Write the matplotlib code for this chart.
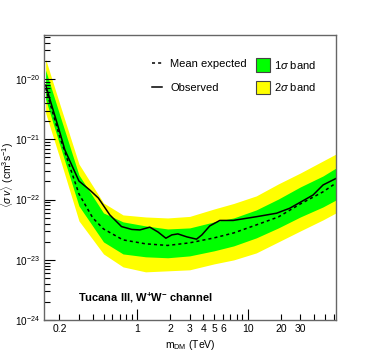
import math
import matplotlib
matplotlib.use("Agg")
import matplotlib.pyplot as plt
from matplotlib.ticker import FixedLocator, FuncFormatter, NullFormatter, LogLocator
from matplotlib.patches import Patch
from matplotlib.lines import Line2D

plt.rcParams['font.family'] = ['Liberation Sans', 'DejaVu Sans']
plt.rcParams['mathtext.fontset'] = 'custom'
plt.rcParams['mathtext.rm'] = 'Liberation Sans'
plt.rcParams['mathtext.it'] = 'Liberation Sans:italic'
plt.rcParams['mathtext.bf'] = 'Liberation Sans:bold'

# ---- data ----
band_mass = [0.15, 0.2, 0.3, 0.5, 0.75, 1.2, 1.9, 3, 5, 7.5, 12, 19, 30, 48, 63]
yellow_hi = [2.15e-20, 4.0e-21, 3.89e-22, 8.79e-23, 5.56e-23, 5.14e-23, 4.95e-23, 5.25e-23,
             6.98e-23, 8.61e-23, 1.15e-22, 1.82e-22, 2.76e-22, 4.37e-22, 5.70e-22]
green_hi = [1.41e-20, 2.63e-21, 2.56e-22, 6.0e-23, 4.26e-23, 3.65e-23, 3.25e-23, 3.38e-23,
            4.26e-23, 4.95e-23, 6.73e-23, 1.02e-22, 1.62e-22, 2.46e-22, 3.34e-22]
green_lo = [4.66e-21, 8.36e-22, 7.83e-23, 1.98e-23, 1.25e-23, 1.12e-23, 1.08e-23, 1.16e-23,
            1.41e-23, 1.70e-23, 2.31e-23, 3.38e-23, 5.14e-23, 7.53e-23, 9.84e-23]
yellow_lo = [2.73e-21, 5.08e-22, 4.42e-23, 1.25e-23, 7.62e-24, 6.30e-24, 6.55e-24, 6.81e-24,
             8.55e-24, 9.95e-24, 1.30e-23, 1.98e-23, 3.01e-23, 4.59e-23, 6.0e-23]

mean_mass = [0.15, 0.2, 0.3, 0.4, 0.5, 0.75, 1.2, 1.9, 3, 5, 7.5, 12, 19, 30, 48, 63]
mean_exp = [7.1e-21, 1.14e-21, 1.24e-22, 4.95e-23, 3.25e-23, 2.14e-23, 1.84e-23, 1.73e-23,
            1.91e-23, 2.31e-23, 2.79e-23, 3.79e-23, 5.14e-23, 8.45e-23, 1.34e-22, 1.88e-22]

obs_mass = [0.15, 0.2, 0.224, 0.3, 0.376, 0.449, 0.57, 0.727, 0.901, 1.065, 1.31, 1.55, 1.83,
            2.07, 2.35, 2.83, 3.46, 3.87, 4.56, 5.62, 7.41, 12.1, 18.3, 24.1, 39.1, 48.2, 63]
observed = [7.95e-21, 1.37e-21, 6.65e-22, 2.03e-22, 1.44e-22, 1.06e-22, 5.56e-23, 3.56e-23,
            3.19e-23, 3.13e-23, 3.48e-23, 2.90e-23, 2.28e-23, 2.59e-23, 2.69e-23, 2.40e-23,
            2.20e-23, 2.59e-23, 3.65e-23, 4.50e-23, 4.50e-23, 5.20e-23, 5.93e-23, 7.18e-23,
            1.19e-22, 1.75e-22, 2.24e-22]

x_major = [1, 10]
x_minor = [0.2, 0.3, 0.4, 0.5, 0.6, 0.7, 0.8, 0.9, 2, 3, 4, 5, 6, 7, 8, 9,
           20, 30, 40, 50, 60]
x_minor_labeled = {0.2: "0.2", 2: "2", 3: "3", 4: "4", 5: "5", 6: "6", 20: "20", 30: "30"}
y_major = [1e-24, 1e-23, 1e-22, 1e-21, 1e-20]

# ---- figure ----
fig = plt.figure(figsize=(3.74, 3.56), dpi=100)
ax = fig.add_axes([44/374, 1 - 320/356, 292/374, 285/356])

ax.fill_between(band_mass, yellow_lo, yellow_hi, color='#ffff00', lw=0)
ax.fill_between(band_mass, green_lo, green_hi, color='#00ff00', lw=0)
ax.plot(mean_mass, mean_exp, color='black', lw=1.1, ls=(0, (2.0, 2.0)))
ax.plot(obs_mass, observed, color='black', lw=1.1)

ax.set_xscale('log')
ax.set_yscale('log')
ax.set_xlim(0.145, 63)
ax.set_ylim(1e-24, 5.4e-20)

ax.xaxis.set_major_locator(FixedLocator(x_major))
ax.xaxis.set_major_formatter(FuncFormatter(lambda v, p: "%g" % v))
ax.xaxis.set_minor_locator(FixedLocator(x_minor))
def minor_fmt(v, p):
    for k, s in x_minor_labeled.items():
        if abs(v - k) < 1e-6 * k:
            return s
    return ""
ax.xaxis.set_minor_formatter(FuncFormatter(minor_fmt))

ax.yaxis.set_major_locator(FixedLocator(y_major))
ax.yaxis.set_major_formatter(FuncFormatter(lambda v, p: r"$10^{%d}$" % round(math.log10(v))))
ax.yaxis.set_minor_locator(LogLocator(base=10, subs=range(2, 10), numticks=20))
ax.yaxis.set_minor_formatter(NullFormatter())

ax.tick_params(which='both', direction='in', top=False, right=False, color='black', width=0.8,
               labelsize=7.5)
ax.tick_params(which='major', length=8)
ax.tick_params(which='minor', length=4.5)
ax.tick_params(axis='x', which='both', pad=3)
ax.tick_params(axis='y', which='both', pad=3, labelsize=7.2)

for s in ax.spines.values():
    s.set_color('#666666')
    s.set_linewidth(1.0)

ax.set_xlabel(r"m$_{\mathrm{DM}}$ (TeV)", fontsize=7.5, labelpad=3)
ax.set_ylabel(r"$\langle\sigma\, v\rangle$ (cm$^{3}$s$^{-1}$)", fontsize=7.5)
ax.yaxis.set_label_coords(-0.097, 0.51)

# legends
h_lines = [Line2D([], [], color='black', lw=1.1, ls=(0, (2.0, 2.0))),
           Line2D([], [], color='black', lw=1.1)]
leg1 = ax.legend(h_lines, ["Mean expected", "Observed"], loc='upper left',
                 bbox_to_anchor=(0.370, 0.915), frameon=False, fontsize=8,
                 handlelength=0.9, handletextpad=0.75, labelspacing=1.25, borderpad=0,
                 borderaxespad=0)
ax.add_artist(leg1)
h_boxes = [Patch(facecolor='#00ff00', edgecolor='#444444', lw=0.8),
           Patch(facecolor='#ffff00', edgecolor='#444444', lw=0.8)]
ax.legend(h_boxes, [r"1$\sigma$ band", r"2$\sigma$ band"], loc='upper left',
          bbox_to_anchor=(0.726, 0.919), frameon=False, fontsize=8,
          handlelength=1.27, handleheight=1.5, handletextpad=0.35, labelspacing=0.8,
          borderpad=0, borderaxespad=0)

ax.text(0.116, 0.077, r"Tucana III, W$^{\mathbf{+}}$W$^{\mathbf{-}}$ channel",
        transform=ax.transAxes, fontsize=8, fontweight='bold', va='center', ha='left')

fig.savefig("out.png", dpi=100)
